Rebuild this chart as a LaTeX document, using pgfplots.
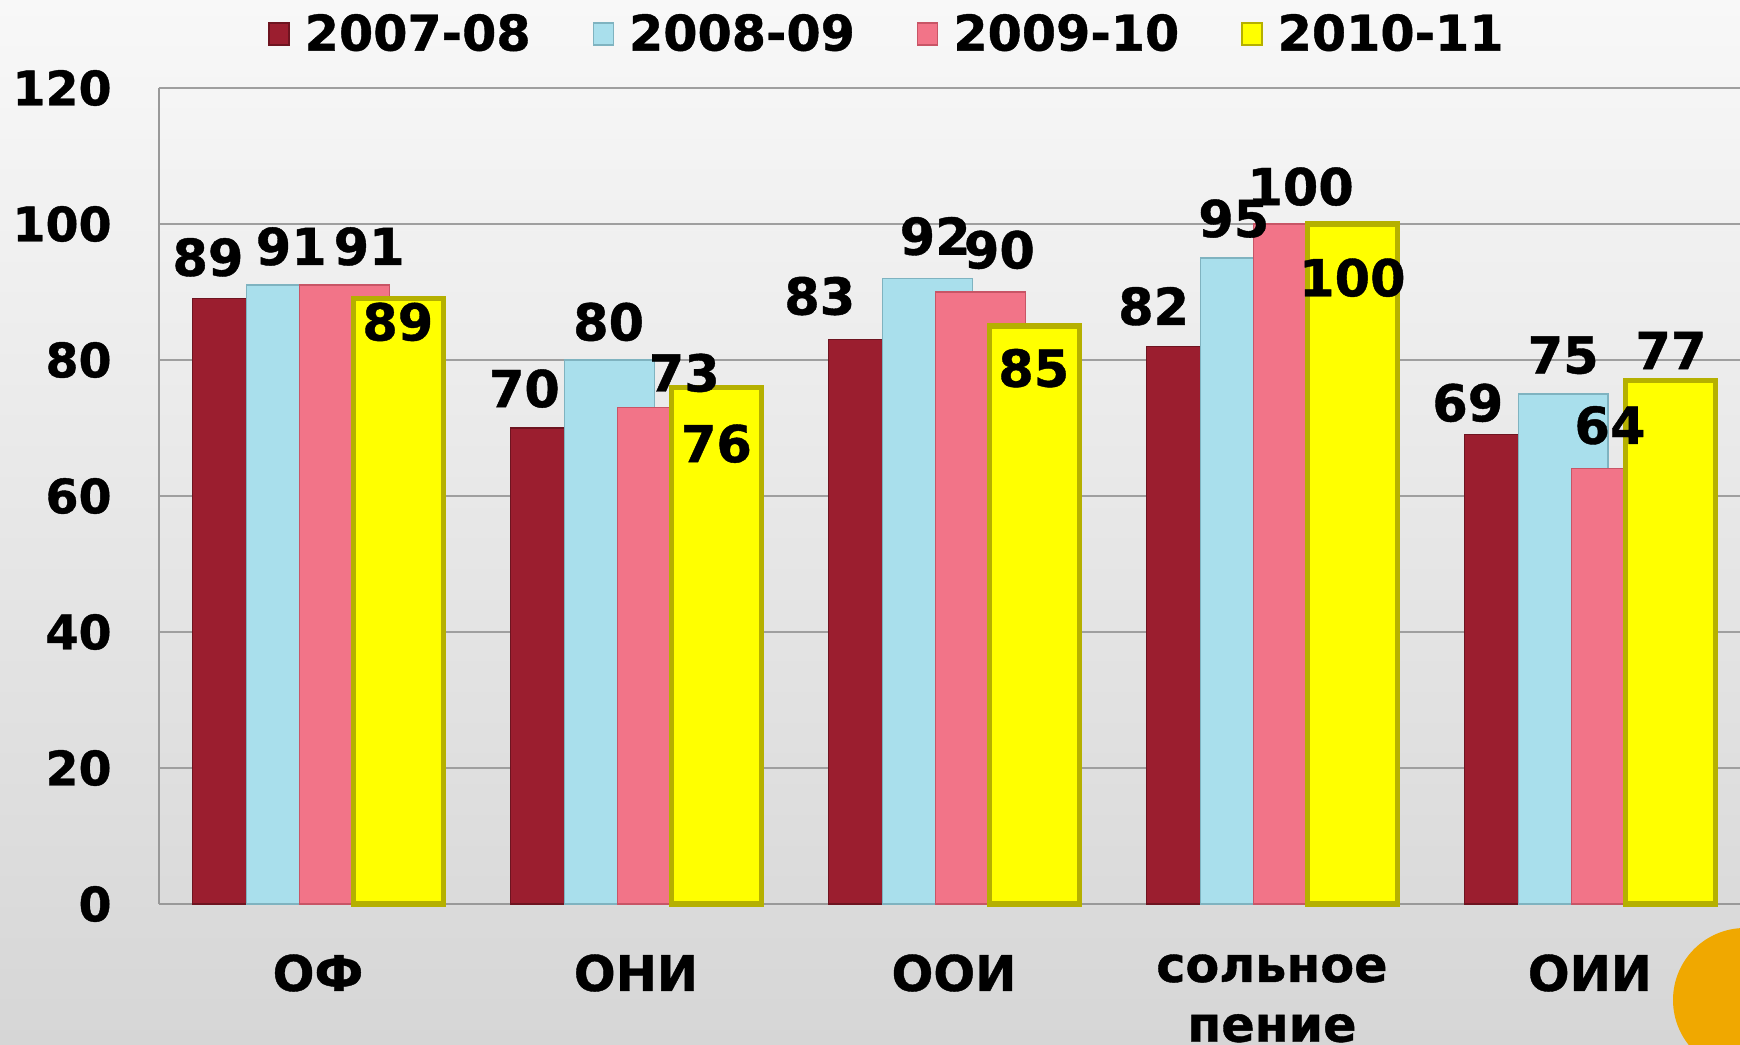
\documentclass[border=0pt]{standalone}
\usepackage{pgfplots}
\pgfplotsset{compat=1.18}
\usepackage{fontspec}
\setmainfont{DejaVu Sans}[BoldFeatures={FakeBold=0.8}]
\definecolor{cRed}{HTML}{9B1E2F}
\definecolor{cRedD}{HTML}{6E1420}
\definecolor{cBlue}{HTML}{A9DFEC}
\definecolor{cBlueD}{HTML}{7FB3C0}
\definecolor{cPink}{HTML}{F27488}
\definecolor{cPinkD}{HTML}{C85566}
\definecolor{cYel}{HTML}{FFFF00}
\definecolor{cYelD}{HTML}{B5B000}
\definecolor{cOrange}{HTML}{F0A800}
\definecolor{bgTop}{HTML}{F8F8F8}
\definecolor{bgBot}{HTML}{D6D6D6}
\pgfplotsset{
  bstyle/.style={ybar, bar width=0.283, legend image code/.code={\draw[##1, line width=0.4pt] (0cm,-0.1cm) rectangle (0.2cm,0.12cm);}},
  lstyle/.style={draw=none, forget plot, nodes near coords, point meta=explicit symbolic,
    nodes near coords align=center,
    every node near coord/.append style={font=\fontsize{14.5}{17}\selectfont\bfseries, inner sep=0pt, text=black}},
}
\begin{document}
\begin{tikzpicture}
\shade[top color=bgTop, bottom color=bgBot] (0,0) rectangle (17.4,10.45);
\path[use as bounding box] (0,0) rectangle (17.4,10.45);
\fill[cOrange] (17.45,0.45) circle (0.72);
\begin{axis}[
  at={(1.59cm,1.41cm)}, anchor=south west,
  scale only axis, width=15.81cm, height=8.16cm,
  xmin=-0.5, xmax=4.472, ymin=0, ymax=120,
  ytick={0,20,...,120},
  xtick={0,1,2,3,4},
  xticklabels={ОФ,ОНИ,ООИ,{сольное\\пение},ОИИ},
  /pgf/number format/assume math mode=true,
  yticklabel style={font=\fontsize{13.5}{16}\selectfont\bfseries, xshift=-0.35cm},
  xticklabel style={font=\fontsize{14}{17}\selectfont\bfseries, align=center, anchor=north, yshift=-0.38cm},
  tick style={draw=none},
  ymajorgrids, grid style={draw=gray!75, line width=0.6pt},
  axis lines*=left,
  axis line style={draw=gray!80, line width=0.8pt},
  clip=false,
  legend columns=4,
  legend style={at={(0.462,1.065)}, anchor=center, draw=none, fill=none,
    font=\fontsize{14}{16}\selectfont\bfseries,
    /tikz/every odd column/.append style={column sep=0.08cm},
    /tikz/every even column/.append style={column sep=0.55cm}},
]
\addplot[bstyle, bar shift=-0.253, fill=cRed, draw=cRedD] coordinates {(0,89) (1,70) (2,83) (3,82) (4,69)};
\addlegendentry{2007-08}
\addplot[bstyle, bar shift=-0.084, fill=cBlue, draw=cBlueD] coordinates {(0,91) (1,80) (2,92) (3,95) (4,75)};
\addlegendentry{2008-09}
\addplot[bstyle, bar shift=0.084, fill=cPink, draw=cPinkD] coordinates {(0,91) (1,73) (2,90) (3,100) (4,64)};
\addlegendentry{2009-10}
\addplot[bstyle, bar shift=0.253, fill=cYel, draw=cYelD, line width=1.5pt] coordinates {(0,89) (1,76) (2,85) (3,100) (4,77)};
\addlegendentry{2010-11}
\addplot[lstyle] table[meta=l] {
x y l
-0.346 95.1 89
-0.084 96.7 91
0.161 96.7 91
0.251 85.6 89
0.649 75.8 70
0.914 85.6 80
1.152 78.1 73
1.253 67.7 76
1.578 89.4 83
1.941 98.2 92
2.143 96.2 90
2.251 78.8 85
2.628 87.9 82
2.880 100.8 95
3.090 105.5 100
3.253 92.1 100
3.616 73.7 69
3.916 80.7 75
4.063 70.4 64
4.255 81.4 77
};
\end{axis}
\end{tikzpicture}
\end{document}
